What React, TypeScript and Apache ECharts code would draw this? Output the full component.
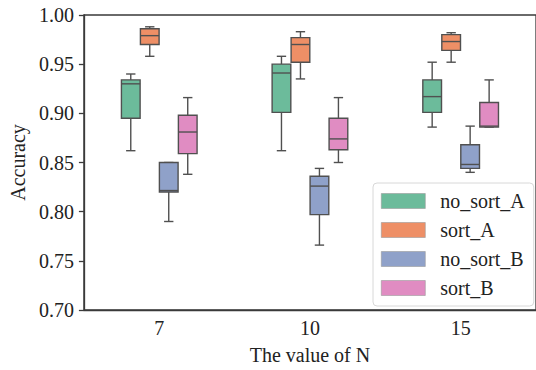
import React, { useEffect, useRef } from "react";
import * as echarts from "echarts";

const categories = ["7", "10", "15"];
const seriesNames = ["no_sort_A", "sort_A", "no_sort_B", "sort_B"];
const seriesColors = ["#6cbb9b", "#ee8f66", "#8fa1c9", "#e08cc2"];
// [lowWhisker, q1, median, q3, highWhisker] per category
const noSortA = [
  [0.862, 0.895, 0.930, 0.934, 0.940],
  [0.862, 0.901, 0.941, 0.950, 0.958],
  [0.886, 0.901, 0.917, 0.934, 0.952],
];
const sortA = [
  [0.958, 0.970, 0.979, 0.986, 0.988],
  [0.935, 0.952, 0.970, 0.977, 0.983],
  [0.952, 0.964, 0.973, 0.980, 0.982],
];
const noSortB = [
  [0.790, 0.820, 0.8215, 0.850, 0.850],
  [0.766, 0.797, 0.826, 0.836, 0.844],
  [0.840, 0.844, 0.848, 0.868, 0.887],
];
const sortB = [
  [0.838, 0.859, 0.881, 0.898, 0.916],
  [0.850, 0.863, 0.874, 0.895, 0.916],
  [0.886, 0.886, 0.887, 0.911, 0.934],
];
const yTicks = [0.7, 0.75, 0.8, 0.85, 0.9, 0.95, 1.0];

const allSeries = [noSortA, sortA, noSortB, sortB];
const FONT = "Liberation Serif";
const EDGE = "#505050";
const TXT = "#222";

export default function App() {
  const ref = useRef<HTMLDivElement>(null);
  useEffect(() => {
    if (!ref.current) return;
    const chart = echarts.init(ref.current, undefined, { renderer: "svg" });
    const renderItem = (params: any, api: any) => {
      const hue = params.seriesIndex;
      const x = api.value(0);
      const bandW = api.size([1, 0])[0];
      const off = (hue - 1.5) * bandW * 0.126;
      const w = bandW * 0.124;
      const capW = w * 0.5;
      const pLow = api.coord([x, api.value(1)]);
      const pQ1 = api.coord([x, api.value(2)]);
      const pMed = api.coord([x, api.value(3)]);
      const pQ3 = api.coord([x, api.value(4)]);
      const pHigh = api.coord([x, api.value(5)]);
      const cx = pLow[0] + off;
      const lineStyle = { stroke: EDGE, lineWidth: 1.4 };
      return {
        type: "group",
        children: [
          { type: "line", shape: { x1: cx, y1: pLow[1], x2: cx, y2: pQ1[1] }, style: lineStyle },
          { type: "line", shape: { x1: cx, y1: pQ3[1], x2: cx, y2: pHigh[1] }, style: lineStyle },
          { type: "line", shape: { x1: cx - capW / 2, y1: pLow[1], x2: cx + capW / 2, y2: pLow[1] }, style: lineStyle },
          { type: "line", shape: { x1: cx - capW / 2, y1: pHigh[1], x2: cx + capW / 2, y2: pHigh[1] }, style: lineStyle },
          {
            type: "rect",
            shape: { x: cx - w / 2, y: pQ3[1], width: w, height: pQ1[1] - pQ3[1] },
            style: { fill: seriesColors[hue], stroke: EDGE, lineWidth: 1.4 },
          },
          { type: "line", shape: { x1: cx - w / 2, y1: pMed[1], x2: cx + w / 2, y2: pMed[1] }, style: lineStyle },
        ],
      };
    };
    const series = allSeries.map((arr, i) => ({
      type: "custom",
      name: seriesNames[i],
      renderItem,
      itemStyle: { color: seriesColors[i] },
      encode: { x: 0, y: [1, 2, 3, 4, 5] },
      data: arr.map((v, ci) => [ci, ...v]),
    }));
    chart.setOption({
      animation: false,
      textStyle: { fontFamily: FONT, fontSize: 20, color: TXT },
      grid: {
        left: 82,
        top: 15,
        width: 465,
        height: 301,
        show: true,
        borderColor: "#3a3a3a",
        borderWidth: 1.3,
        backgroundColor: "transparent",
      },
      legend: {
        data: seriesNames.map((n) => ({ name: n, icon: "rect" })),
        orient: "vertical",
        left: 373,
        top: 183,
        padding: [8, 9, 8, 8],
        itemWidth: 44,
        itemHeight: 15,
        itemGap: 9,
        backgroundColor: "rgba(255,255,255,0.85)",
        borderColor: "#d8d8d8",
        borderWidth: 1,
        borderRadius: 4,
        itemStyle: { borderColor: "#9a9a9a", borderWidth: 0.6 },
        formatter: (name: string) => "{t|" + name + "}",
        textStyle: {
          fontFamily: FONT,
          fontSize: 20,
          color: TXT,
          rich: {
            t: {
              fontFamily: FONT,
              fontSize: 20,
              color: TXT,
              padding: [0, 0, 0, 10],
              lineHeight: 20,
            },
          },
        },
      },
      xAxis: {
        type: "category",
        data: categories,
        name: "The value of N",
        nameLocation: "middle",
        nameGap: 35,
        nameTextStyle: { fontFamily: FONT, fontSize: 20, color: TXT },
        axisLine: { lineStyle: { color: "#3a3a3a", width: 1.3 } },
        axisTick: { alignWithLabel: true, length: 5, lineStyle: { color: "#3a3a3a", width: 1.3 } },
        axisLabel: { fontFamily: FONT, fontSize: 20, color: TXT, margin: 8 },
        splitLine: { show: false },
      },
      yAxis: {
        type: "value",
        min: yTicks[0],
        max: yTicks[yTicks.length - 1],
        interval: 0.05,
        name: "Accuracy",
        nameLocation: "middle",
        nameGap: 54,
        nameTextStyle: { fontFamily: FONT, fontSize: 20, color: TXT },
        axisLine: { show: true, lineStyle: { color: "#3a3a3a", width: 1.3 } },
        axisTick: { show: true, length: 5, lineStyle: { color: "#3a3a3a", width: 1.3 } },
        axisLabel: {
          fontFamily: FONT,
          fontSize: 20,
          color: TXT,
          margin: 10,
          formatter: (v: number) => v.toFixed(2),
        },
        splitLine: { show: false },
      },
      series,
    });
    return () => chart.dispose();
  }, []);
  return (
    <div
      ref={ref}
      style={{ position: "fixed", left: 0, top: 0, width: 536, height: 370, background: "#fff" }}
    />
  );
}
